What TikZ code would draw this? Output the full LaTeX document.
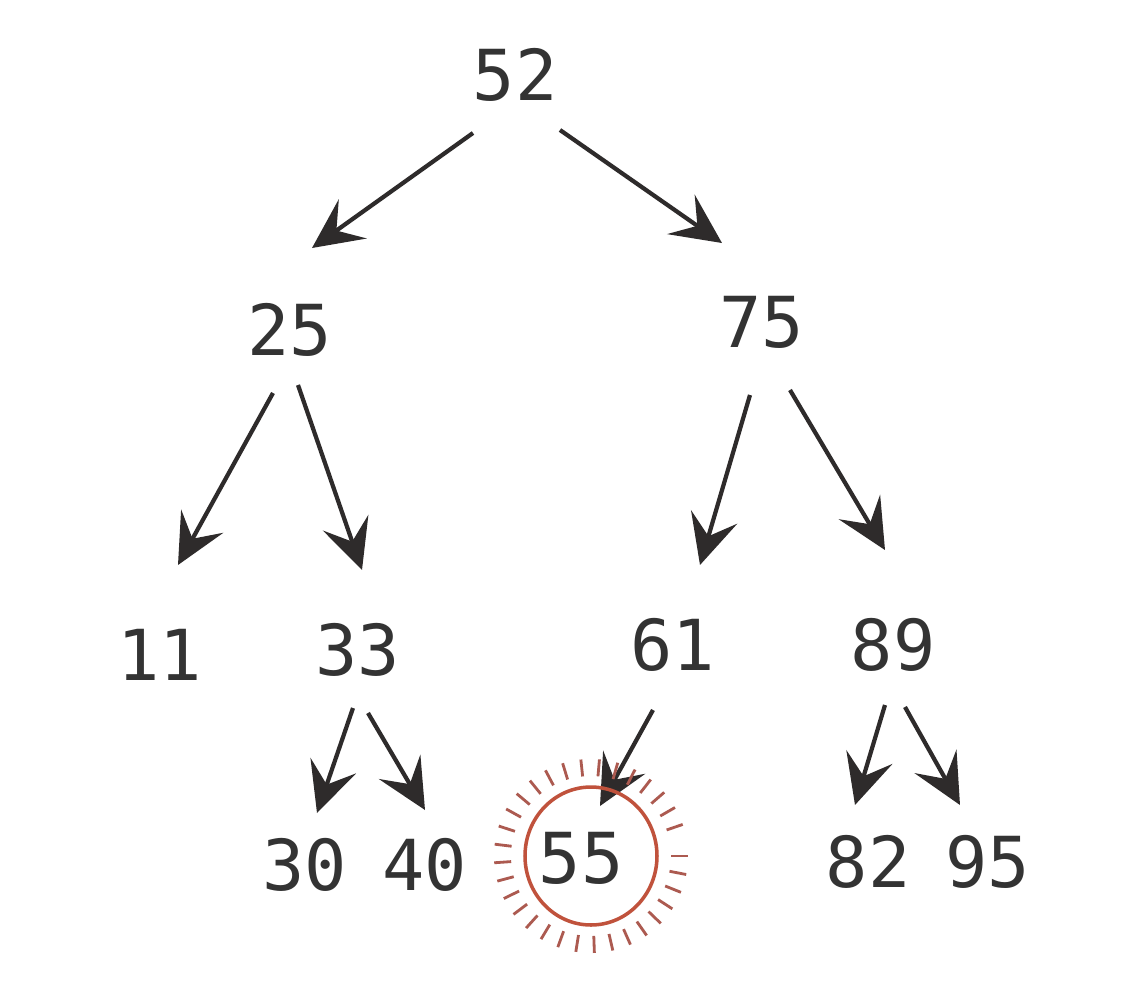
\documentclass[tikz,border=0pt]{standalone}
\usepackage{xcolor}
\usepackage{tikz}
\usepackage{fontspec}
\setmonofont{DejaVu Sans Mono}
\usetikzlibrary{
  arrows.meta,
  positioning,
  calc
}
\definecolor{bstInk}{HTML}{333333}
\definecolor{bstEdge}{HTML}{2E2B2B}
\definecolor{bstHit}{HTML}{C0523C}
\definecolor{bstRay}{HTML}{AC5A50}
\tikzset{
  num/.style={
    font=\ttfamily\fontsize{20}{24}\selectfont, text=bstInk, inner sep=0pt
  },
  edge/.style={-{Stealth[length=5mm, width=4.8mm, inset=2mm]}, line width=1.2pt, bstEdge},
  found/.style={draw=bstHit, line width=1pt},
  ray/.style={bstRay, line width=0.8pt}
}

\begin{document}
\begin{tikzpicture}[x=0.1mm, y=-0.1mm]
  \useasboundingbox[fill=white] (0,0) rectangle (1147,1000);
  % keys
  \node[num] (n52) at (515,75) {52};
  \node[num] (n25) at (290,330) {25};
  \node[num] (n75) at (762,322) {75};
  \node[num] (n11) at (160,655) {11};
  \node[num] (n33) at (358,650) {33};
  \node[num] (n61) at (673,645) {61};
  \node[num] (n89) at (893,645) {89};
  \node[num] (n30) at (305,865) {30};
  \node[num] (n40) at (425,865) {40};
  \node[num] (n55) at (581,858) {55};
  \node[num] (n82) at (868,862) {82};
  \node[num] (n95) at (988,862) {95};
  % links
  \foreach \a/\b/\sx/\sy/\ex/\ey in {
    n52/n25/-42/58/22/-82, n52/n75/45/55/-40/-79,
    n25/n11/-17/63/18/-90, n25/n33/8/55/4/-80,
    n75/n61/-12/73/27/-80, n75/n89/28/68/-8/-95,
    n33/n30/-5/58/12/-52, n33/n40/10/63/0/-55,
    n61/n55/-20/65/19/-52,
    n89/n82/-8/60/-13/-57, n89/n95/12/62/-28/-57}
    \draw[edge] ([shift={(\sx,\sy)}]\a.center) -- ([shift={(\ex,\ey)}]\b.center);
  % highlight of the found key
  \coordinate (hit) at ([shift={(10,-2)}]n55.center);
  \draw[found] (hit) circle [x radius=66, y radius=69];
  \foreach \t in {0,11,...,350}
    \draw[ray] ($(hit)+(\t:80)$) -- ($(hit)+(\t:97)$);
\end{tikzpicture}
\end{document}
